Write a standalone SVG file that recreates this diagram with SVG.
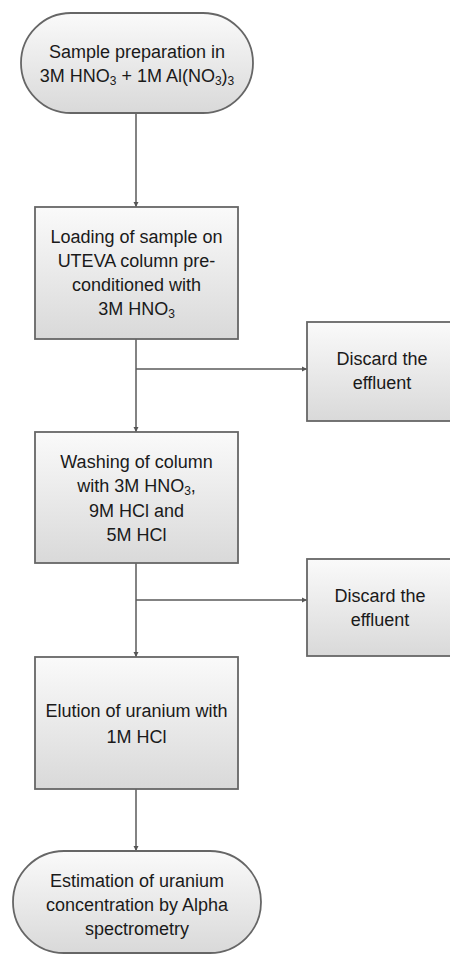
<svg xmlns="http://www.w3.org/2000/svg" width="450" height="955" viewBox="0 0 450 955">
<defs>
<linearGradient id="g" x1="0" y1="0" x2="0" y2="1">
<stop offset="0" stop-color="#fafafa"/>
<stop offset="1" stop-color="#d9d9d9"/>
</linearGradient>
<marker id="ah" markerWidth="6" markerHeight="6" refX="5" refY="3" orient="auto" markerUnits="userSpaceOnUse">
<path d="M0,0.5 L5,3 L0,5.5 Z" fill="#555"/>
</marker>
<style>
.n{fill:url(#g);stroke:#666;stroke-width:1.8}
.t{font-family:"Liberation Sans",Arial,sans-serif;font-size:18px;fill:#1a1a1a;text-anchor:middle}
.s{font-size:12px}
.c{stroke:#5a5a5a;stroke-width:1.5;fill:none}
</style>
</defs>
<g id="connectors">
<line class="c" x1="136" y1="113" x2="136" y2="207" marker-end="url(#ah)"/>
<line class="c" x1="136" y1="339" x2="136" y2="432" marker-end="url(#ah)"/>
<line class="c" x1="136" y1="369" x2="307" y2="369" marker-end="url(#ah)"/>
<line class="c" x1="136" y1="563" x2="136" y2="657" marker-end="url(#ah)"/>
<line class="c" x1="136" y1="600" x2="307" y2="600" marker-end="url(#ah)"/>
<line class="c" x1="136" y1="789" x2="136" y2="851" marker-end="url(#ah)"/>
</g>
<g id="start">
<rect class="n" x="21" y="13" width="232" height="100" rx="50" ry="50"/>
<text class="t" x="137" y="58">Sample preparation in</text>
<text class="t" x="137" y="82">3M HNO<tspan class="s" dy="3">3</tspan><tspan dy="-3"> + 1M Al(NO</tspan><tspan class="s" dy="3">3</tspan><tspan dy="-3">)</tspan><tspan class="s" dy="3">3</tspan></text>
</g>
<g id="loading">
<rect class="n" x="35" y="207" width="203" height="132"/>
<text class="t" x="136.5" y="243">Loading of sample on</text>
<text class="t" x="136.5" y="267">UTEVA column pre-</text>
<text class="t" x="136.5" y="291">conditioned with</text>
<text class="t" x="136.5" y="315">3M HNO<tspan class="s" dy="3">3</tspan></text>
</g>
<g id="discard1">
<rect class="n" x="307" y="322" width="150" height="99"/>
<text class="t" x="382" y="365">Discard the</text>
<text class="t" x="382" y="389">effluent</text>
</g>
<g id="washing">
<rect class="n" x="35" y="432" width="203" height="131"/>
<text class="t" x="136.5" y="468">Washing of column</text>
<text class="t" x="136.5" y="492">with 3M HNO<tspan class="s" dy="3">3</tspan><tspan dy="-3">,</tspan></text>
<text class="t" x="136.5" y="517">9M HCl and</text>
<text class="t" x="136.5" y="541">5M HCl</text>
</g>
<g id="discard2">
<rect class="n" x="307" y="559" width="150" height="97"/>
<text class="t" x="380" y="602">Discard the</text>
<text class="t" x="380" y="626">effluent</text>
</g>
<g id="elution">
<rect class="n" x="35" y="657" width="203" height="132"/>
<text class="t" x="136.5" y="717">Elution of uranium with</text>
<text class="t" x="136.5" y="743">1M HCl</text>
</g>
<g id="end">
<rect class="n" x="13" y="851" width="248" height="102" rx="51" ry="51"/>
<text class="t" x="137" y="887">Estimation of uranium</text>
<text class="t" x="137" y="911">concentration by Alpha</text>
<text class="t" x="137" y="935">spectrometry</text>
</g>
</svg>
